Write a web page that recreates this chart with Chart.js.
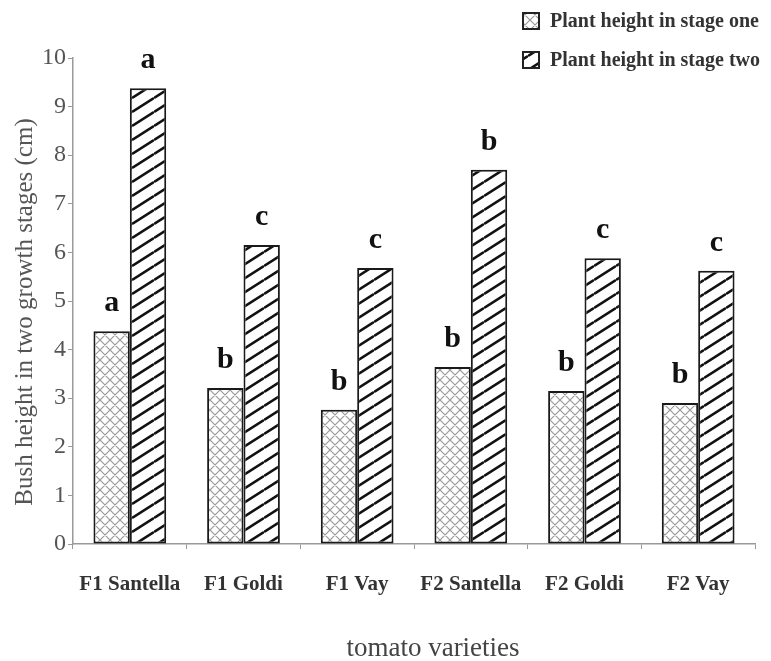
<!DOCTYPE html>
<html>
<head>
<meta charset="utf-8">
<script src="https://cdn.jsdelivr.net/npm/chart.js@4/dist/chart.umd.min.js"></script>
<style>
  html, body { margin: 0; padding: 0; background: #ffffff; }
  #wrap { width: 771px; height: 661px; }
</style>
</head>
<body>
<div id="wrap"><canvas id="c" width="771" height="661"></canvas></div>
<script>
const categories = ["F1 Santella", "F1 Goldi", "F1 Vay", "F2 Santella", "F2 Goldi", "F2 Vay"];
const stageOne = [4.38, 3.21, 2.76, 3.64, 3.15, 2.90];
const stageTwo = [9.38, 6.15, 5.68, 7.70, 5.88, 5.62];
const lettersOne = ["a", "b", "b", "b", "b", "b"];
const lettersTwo = ["a", "c", "c", "b", "c", "c"];
const seriesNames = ["Plant height in stage one", "Plant height in stage two"];
const yTicks = [0, 1, 2, 3, 4, 5, 6, 7, 8, 9, 10];
const xTitle = "tomato varieties";
const yTitle = "Bush height in two growth stages (cm)";

const SERIF = '"Liberation Serif", "Times New Roman", "DejaVu Serif", serif';

function crossPattern() {
  const s = 10;
  const c = document.createElement('canvas');
  c.width = s; c.height = s;
  const x = c.getContext('2d');
  x.fillStyle = '#ffffff'; x.fillRect(0, 0, s, s);
  x.strokeStyle = '#9a9a9a'; x.lineWidth = 1.2;
  x.beginPath();
  for (let k = -1; k <= 1; k++) {
    x.moveTo(k * s, 0); x.lineTo(k * s + s, s);
    x.moveTo(k * s, s); x.lineTo(k * s + s, 0);
  }
  x.stroke();
  return x.createPattern(c, 'repeat');
}
function diagPattern() {
  const w = 22, h = 14;
  const c = document.createElement('canvas');
  c.width = w; c.height = h;
  const x = c.getContext('2d');
  x.fillStyle = '#ffffff'; x.fillRect(0, 0, w, h);
  x.strokeStyle = '#111111'; x.lineWidth = 2.6;
  x.beginPath();
  for (let k = -1; k <= 1; k++) {
    x.moveTo(0, h + k * h); x.lineTo(w, k * h);
  }
  x.stroke();
  return x.createPattern(c, 'repeat');
}

const ctx = document.getElementById('c').getContext('2d');
const patOne = crossPattern();
const patTwo = diagPattern();

const letterPlugin = {
  id: 'letters',
  afterDatasetsDraw(chart) {
    const c = chart.ctx;
    c.save();
    c.font = 'bold 30px ' + SERIF;
    c.fillStyle = '#111111';
    c.textAlign = 'center';
    c.textBaseline = 'alphabetic';
    [lettersOne, lettersTwo].forEach((arr, di) => {
      const meta = chart.getDatasetMeta(di);
      meta.data.forEach((bar, i) => {
        c.fillText(arr[i], bar.x, bar.y - 20);
      });
    });
    c.restore();
  }
};

const titlesPlugin = {
  id: 'titles',
  afterDraw(chart) {
    const c = chart.ctx;
    c.save();
    c.fillStyle = '#444444';
    c.textAlign = 'center';
    c.textBaseline = 'middle';
    c.font = '27px ' + SERIF;
    c.fillText(xTitle, 433, 649);
    c.translate(25, 312);
    c.rotate(-Math.PI / 2);
    c.fillStyle = '#555555';
    c.font = '25px ' + SERIF;
    c.fillText(yTitle, 0, 0);
    c.restore();
  }
};

const legendPlugin = {
  id: 'customLegend',
  afterDraw(chart) {
    const c = chart.ctx;
    c.save();
    const rows = [{ y: 21, fill: patOne }, { y: 60, fill: patTwo }];
    rows.forEach((r, i) => {
      c.fillStyle = r.fill;
      c.fillRect(523, r.y - 8, 16, 16);
      c.strokeStyle = '#222222'; c.lineWidth = 2;
      c.strokeRect(523, r.y - 8, 16, 16);
      c.fillStyle = '#333333';
      c.font = 'bold 20px ' + SERIF;
      c.textAlign = 'left';
      c.textBaseline = 'middle';
      c.fillText(chart.data.datasets[i].label, 550, r.y + 1);
    });
    c.restore();
  }
};

new Chart(ctx, {
  type: 'bar',
  data: {
    labels: categories,
    datasets: [
      { label: seriesNames[0], data: stageOne, backgroundColor: patOne, borderColor: '#1a1a1a', borderWidth: 2, borderSkipped: false, barPercentage: 1.0, categoryPercentage: 0.64 },
      { label: seriesNames[1], data: stageTwo, backgroundColor: patTwo, borderColor: '#1a1a1a', borderWidth: 2, borderSkipped: false, barPercentage: 1.0, categoryPercentage: 0.64 }
    ]
  },
  options: {
    responsive: false,
    animation: false,
    events: [],
    layout: { autoPadding: false, padding: { top: 58, right: 16, left: 0, bottom: 0 } },
    plugins: { legend: { display: false }, tooltip: { enabled: false } },
    scales: {
      x: {
        afterFit(s) { s.height = 117; },
        border: { display: true, color: '#9a9a9a', width: 1.5 },
        grid: { display: true, drawOnChartArea: false, drawTicks: true, tickLength: 5, color: '#9a9a9a', offset: true },
        ticks: { color: '#333333', padding: 23, font: { family: SERIF, size: 21, weight: 'bold' } },
        title: { display: false }
      },
      y: {
        min: 0, max: 10,
        afterFit(s) { s.width = 73; },
        afterBuildTicks(s) { s.ticks = yTicks.map(v => ({ value: v })); },
        border: { display: true, color: '#9a9a9a', width: 1.5 },
        grid: { display: true, drawOnChartArea: false, drawTicks: true, tickLength: 5, color: '#9a9a9a' },
        ticks: { color: '#555555', padding: 2, font: { family: SERIF, size: 24 } },
        title: { display: false }
      }
    }
  },
  plugins: [letterPlugin, titlesPlugin, legendPlugin]
});
</script>
</body>
</html>
